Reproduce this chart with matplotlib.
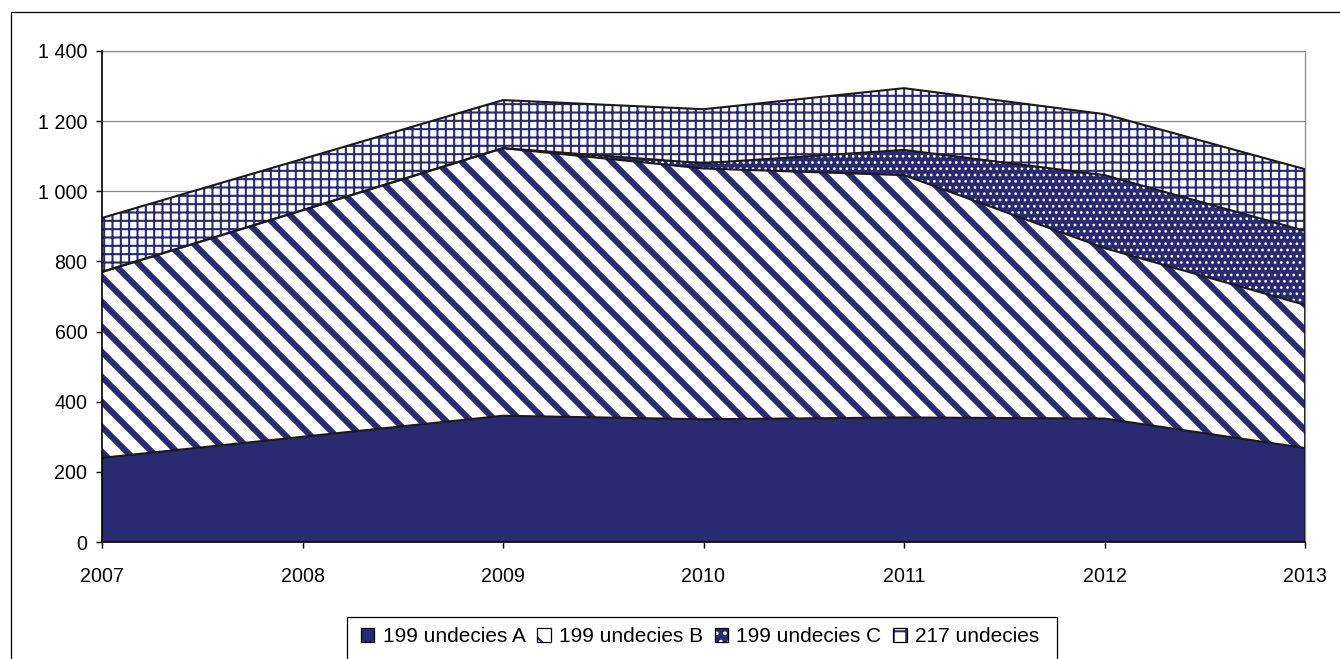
import numpy as np
import matplotlib
matplotlib.use("Agg")
import matplotlib.pyplot as plt
from matplotlib.patches import Rectangle, Patch
from matplotlib.ticker import FuncFormatter

# Data
years = [2007, 2008, 2009, 2010, 2011, 2012, 2013]
series_names = ["199 undecies A", "199 undecies B", "199 undecies C", "217 undecies"]
undecies_a = [240, 300, 360, 350, 355, 352, 268]
undecies_b = [530, 646, 763, 715, 691, 486, 408]
undecies_c = [0, 0, 0, 15, 72, 208, 211]
undecies_217 = [154, 146, 137, 154, 176, 174, 176]
y_ticks = [0, 200, 400, 600, 800, 1000, 1200, 1400]

NAVY = "#2a2a72"
W, H, DPI = 1340, 659, 150

plt.rcParams["font.family"] = ["Liberation Sans", "DejaVu Sans"]
plt.rcParams["font.size"] = 9

fig = plt.figure(figsize=(W / DPI, H / DPI), dpi=DPI)
ax = fig.add_axes([102 / W, 1 - 542 / H, (1305 - 102) / W, (542 - 51) / H])

stack = np.vstack([undecies_a, undecies_b, undecies_c, undecies_217]).astype(float)
tops = np.cumsum(stack, axis=0)
bottoms = np.vstack([np.zeros(len(years)), tops[:-1]])

styles = [
    dict(face=NAVY, hatch=None, leg_hatch=None, hcolor=NAVY, hlw=1.0, leg_hlw=1.0),
    dict(face="white", hatch="\\\\", leg_hatch="\\", hcolor=NAVY, hlw=2.9, leg_hlw=2.2),
    dict(face=NAVY, hatch="....", leg_hatch="...", hcolor="white", hlw=0.7, leg_hlw=0.7),
    dict(face="white", hatch="+++", leg_hatch="++", hcolor=NAVY, hlw=1.0, leg_hlw=1.0),
]

ax.set_axisbelow(True)
ax.yaxis.grid(True, color="#8c8c8c", linewidth=0.6, zorder=0)

handles = []
for i, st in enumerate(styles):
    with plt.rc_context({"hatch.color": st["hcolor"], "hatch.linewidth": st["hlw"]}):
        coll = ax.fill_between(years, bottoms[i], tops[i], facecolor=st["face"],
                               edgecolor="none", linewidth=0, hatch=st["hatch"], zorder=2)
        if hasattr(coll, "set_hatch_linewidth"):
            coll.set_hatch_linewidth(st["hlw"])
    with plt.rc_context({"hatch.color": st["hcolor"], "hatch.linewidth": st["leg_hlw"]}):
        h = Patch(facecolor=st["face"], edgecolor="black", linewidth=0.6,
                  hatch=st["leg_hatch"])
        if hasattr(h, "set_hatch_linewidth"):
            h.set_hatch_linewidth(st["leg_hlw"])
        h._hatch_color = matplotlib.colors.to_rgba(st["hcolor"])
    handles.append(h)

# Outline of each layer
for i in range(4):
    ax.plot(years, tops[i], color="#1a1a1a", linewidth=1.0, zorder=3,
            solid_joinstyle="miter")
ax.plot([years[-1], years[-1]], [0, tops[-1][-1]], color="#1a1a1a", linewidth=0.9, zorder=3)

ax.set_xlim(years[0], years[-1])
ax.set_ylim(y_ticks[0], y_ticks[-1])
ax.set_xticks(years)
ax.set_yticks(y_ticks)
ax.yaxis.set_major_formatter(FuncFormatter(lambda v, p: f"{int(v):,}".replace(",", " ")))

for side in ["top", "right"]:
    ax.spines[side].set_color("#8c8c8c")
    ax.spines[side].set_linewidth(0.6)
for side in ["left", "bottom"]:
    ax.spines[side].set_color("black")
    ax.spines[side].set_linewidth(0.8)
ax.spines["left"].set_zorder(4)
ax.spines["bottom"].set_zorder(4)

ax.tick_params(axis="both", direction="out", length=3, width=0.7, color="black",
               labelsize=9.4)
ax.tick_params(axis="y", pad=4)
ax.tick_params(axis="x", pad=9)

# Legend with its own frame
fig.add_artist(Rectangle((347 / W, -0.05), (1057 - 347) / W, 0.05 + (659 - 617) / H,
                         transform=fig.transFigure, facecolor="white",
                         edgecolor="black", linewidth=0.6, zorder=0))
leg = fig.legend(handles, series_names, loc="center", ncol=4,
                 bbox_to_anchor=(700 / W, 1 - 637 / H), frameon=False,
                 fontsize=10, handlelength=0.65, handleheight=0.65,
                 handletextpad=0.4, columnspacing=0.55, borderpad=0)

# Outer chart border
fig.add_artist(Rectangle((11 / W, -0.05), 1.1, 0.05 + (659 - 12) / H,
                         transform=fig.transFigure, facecolor="none",
                         edgecolor="black", linewidth=0.6, zorder=-1))

fig.savefig("out.png", dpi=DPI, facecolor="white")
